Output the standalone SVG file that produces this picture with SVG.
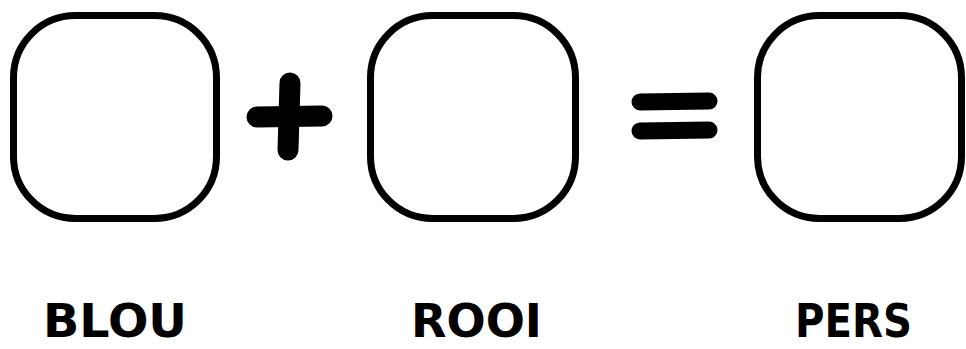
<svg xmlns="http://www.w3.org/2000/svg" width="966" height="349" viewBox="0 0 966 349">
<style>
.box{fill:#fff;stroke:#000;stroke-width:7}
.op{stroke:#000;stroke-linecap:round;fill:none}
.lbl{font-family:"DejaVu Sans",sans-serif;font-weight:bold;font-size:47px;fill:#000}
</style>
<rect width="966" height="349" fill="#fff"/>
<g id="blou">
<rect class="box" x="13.5" y="15.5" width="203" height="203" rx="62"/>
<text class="lbl" x="43" y="337" textLength="144" lengthAdjust="spacingAndGlyphs">BLOU</text>
</g>
<g id="plus">
<path class="op" stroke-width="21" d="M257 117 L322 116"/>
<path class="op" stroke-width="21" d="M290 83 L288 150"/>
</g>
<g id="rooi">
<rect class="box" x="370.5" y="15.5" width="205" height="203" rx="62"/>
<text class="lbl" x="411" y="337" textLength="131" lengthAdjust="spacingAndGlyphs">ROOI</text>
</g>
<g id="equals">
<path class="op" stroke-width="17" d="M640 102 L709 101"/>
<path class="op" stroke-width="17" d="M640 131 L709 130"/>
</g>
<g id="pers">
<rect class="box" x="757.5" y="15.5" width="204" height="203" rx="62"/>
<text class="lbl" x="795" y="337" textLength="117" lengthAdjust="spacingAndGlyphs">PERS</text>
</g>
<g id="connectors"></g>
</svg>
